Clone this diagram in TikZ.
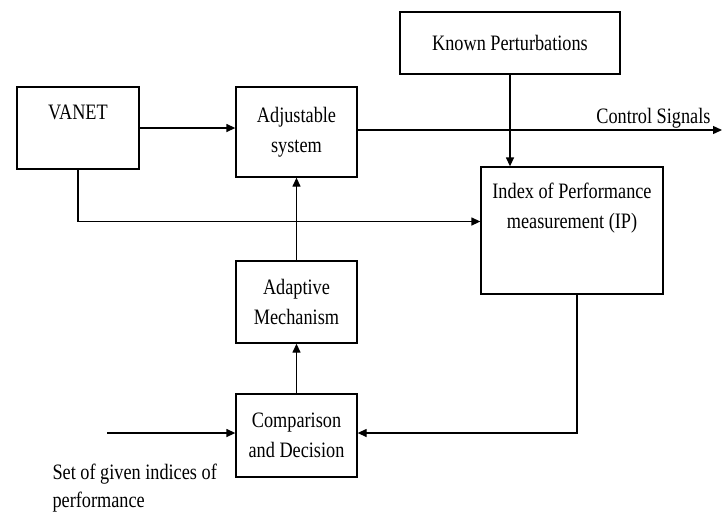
\documentclass[tikz,border=0pt]{standalone}
\usepackage{fontspec}
\setmainfont{Liberation Serif}[FakeStretch=0.83]
\usetikzlibrary{positioning,arrows.meta}
\newcommand{\blockfont}{\fontsize{22}{30}\selectfont}
\tikzset{
  block/.style={draw, line width=1.3pt, minimum width=121pt, align=center, font=\blockfont},
  link/.style={-{Triangle[length=9pt,width=8pt]}, line width=1.3pt},
}
\begin{document}
\begin{tikzpicture}[x=1pt,y=-1pt]
    \useasboundingbox (0,0) rectangle (727,515);

    \node (known) [block, minimum width=220pt, minimum height=62pt] at (510,43) {Known Perturbations};
    \node (vanet) [block, minimum width=122pt, minimum height=82pt,
        label={[font=\blockfont, anchor=north, yshift=-15pt]north:VANET}] at (78,128) {};
    \node (adjust) [block, minimum height=90pt] at (296.5,132) {Adjustable\\system};
    \node (ip) [block, minimum width=182pt, minimum height=127pt,
        label={[font=\blockfont, anchor=north, yshift=-13pt, align=center]north:Index of Performance\\measurement (IP)}] at (572,230.5) {};
    \node (adapt) [block, minimum height=82pt] at (296.5,302) {Adaptive\\Mechanism};
    \node (comp) [block, minimum height=83pt] at (296.5,435.5) {Comparison\\and Decision};

    \coordinate (out) at (722,130);
    \coordinate (given) at (107,433);
    \node (outtext) [font=\blockfont, anchor=base east] at (714,123) {Control Signals};
    \node (giventext) [font=\fontsize{22}{28}\selectfont, align=left, anchor=north west] at (49,460) {Set of given indices of\\performance};

    \draw[link] (vanet.east) -- (vanet.east -| adjust.west);
    \draw[link] (adjust.east |- out) -- (out);
    \draw[link] (known.south) -- (known.south |- ip.north);
    \draw[link] (vanet.south) |- ([yshift=9pt]ip.west);
    \draw[link] (adapt.north) -- (adjust.south);
    \draw[link] (comp.north) -- (adapt.south);
    \draw[link] ([xshift=5pt]ip.south) |- (comp.east |- given);
    \draw[link] (given) -- (comp.west |- given);
\end{tikzpicture}
\end{document}
